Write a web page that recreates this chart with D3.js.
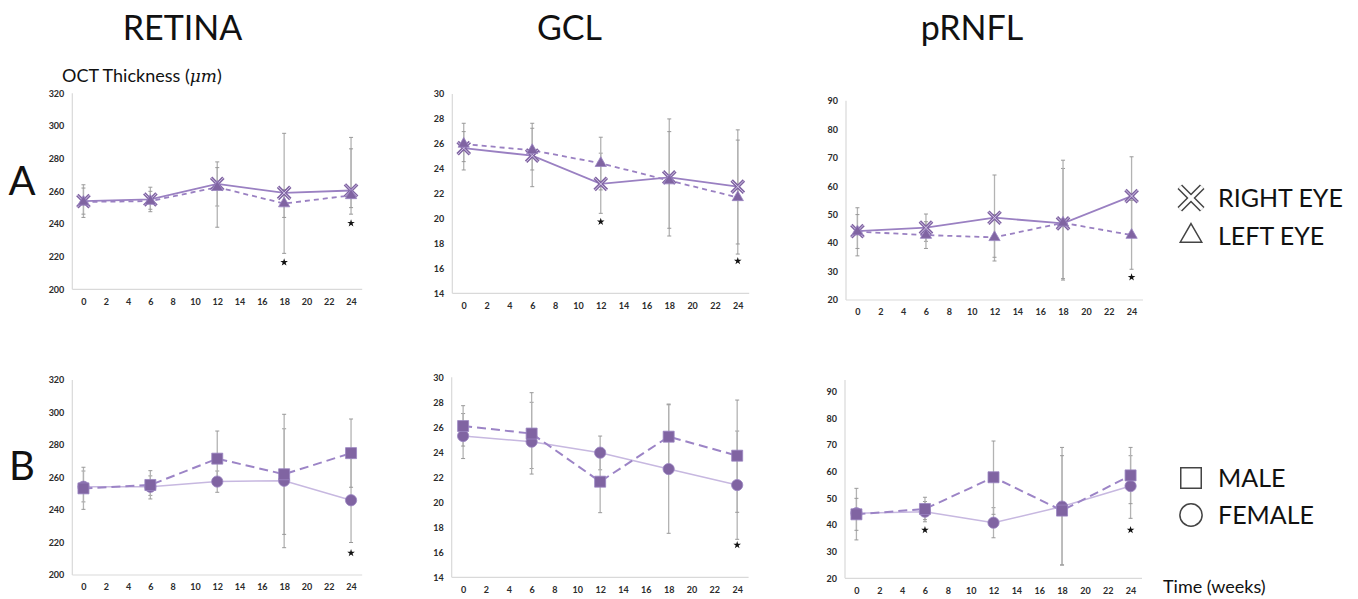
<!DOCTYPE html>
<html>
<head>
<meta charset="utf-8">
<script src="https://cdn.jsdelivr.net/npm/d3@7"></script>
<style>
  body { margin: 0; background: #fff; }
  svg { display: block; font-family: Lato, "Open Sans", sans-serif; }
</style>
</head>
<body>
<svg width="1358" height="599"></svg>
<script>
// Time points (weeks)
const weeks = [0, 6, 12, 18, 24];
const xTicks = [0, 2, 4, 6, 8, 10, 12, 14, 16, 18, 20, 22, 24];

// Row A: right eye vs left eye
const retinaRight = [254, 255, 264.5, 259, 260.5];
const retinaRightErr = [[244, 264], [247.5, 262.5], [251, 278], [222, 295.5], [246, 293]];
const retinaLeft = [253.5, 254, 262.5, 252.5, 257.5];
const retinaLeftErr = [[246, 262], [249, 260], [238, 274.5], [244, 261], [250, 286]];
const retinaAStars = [[18, 216.5], [24, 240.5]];

const gclRight = [25.65, 25.05, 22.78, 23.3, 22.56];
const gclRightErr = [[23.9, 27.65], [22.56, 27.65], [20.42, 25.25], [18.6, 28.0], [17.15, 27.12]];
const gclLeft = [25.99, 25.48, 24.44, 23.05, 21.7];
const gclLeftErr = [[24.57, 26.98], [23.9, 27.25], [22.3, 26.53], [19.22, 26.98], [17.96, 26.3]];
const gclAStars = [[12, 19.75], [24, 16.6]];

const rnflRight = [44.2, 45.4, 48.9, 46.9, 56.5];
const rnflRightErr = [[35.5, 52.4], [40.6, 50.2], [33.7, 63.9], [27.0, 66.2], [42, 70.3]];
const rnflLeft = [44, 42.8, 42.0, 47.1, 42.8];
const rnflLeftErr = [[38.1, 50], [38.1, 47.5], [35, 50], [27.5, 69.1], [30.8, 55]];
const rnflAStars = [[24, 28]];

// Row B: male vs female
const retinaMale = [253.3, 255.4, 271.6, 262, 275];
const retinaMaleErr = [[240.4, 266.3], [246.8, 264.2], [255, 288.6], [225, 298.9], [254, 296]];
const retinaFemale = [254.3, 254.3, 257.5, 258, 246];
const retinaFemaleErr = [[245, 264], [249, 261], [250.9, 264], [216.8, 290], [220, 272]];
const retinaBStars = [[24, 213.5]];

const gclMale = [26.1, 25.5, 21.65, 25.25, 23.73];
const gclMaleErr = [[24.5, 27.73], [22.26, 28.77], [19.17, 24.1], [22.6, 27.86], [19.2, 28.18]];
const gclFemale = [25.3, 24.85, 23.97, 22.66, 21.38];
const gclFemaleErr = [[23.5, 27.1], [22.7, 28.0], [22.6, 25.3], [17.52, 27.8], [17.04, 25.7]];
const gclBStars = [[24, 16.58]];

const rnflMale = [44, 46, 57.9, 45.4, 58.6];
const rnflMaleErr = [[38, 50], [42, 50.4], [44, 71.5], [25, 66], [48, 69.1]];
const rnflFemale = [44.4, 45, 40.85, 46.9, 54.6];
const rnflFemaleErr = [[34.4, 53.75], [41.2, 48.8], [35.2, 46.5], [25, 69.1], [42.5, 66]];
const rnflBStars = [[6, 38.1], [24, 38.1]];

const svg = d3.select("svg");
const purple = "#8064a2";

// series styles
const rightStyle = { line: "#9a80c2", width: 1.8, dash: null, marker: "x" };
const leftStyle = { line: "#9a80c2", width: 1.8, dash: "5,4", marker: "triangle" };
const maleStyle = { line: "#9c84c6", width: 2, dash: "9,5", marker: "square" };
const femaleStyle = { line: "#c7b8e0", width: 1.5, dash: null, marker: "circle" };

function markerPath(kind) {
  if (kind === "x") return d3.symbol().type(d3.symbolTimes).size(100)();
  if (kind === "triangle") return d3.symbol().type(d3.symbolTriangle).size(55)();
  if (kind === "square") return d3.symbol().type(d3.symbolSquare).size(121)();
  return d3.symbol().type(d3.symbolCircle).size(100)();
}

function drawPanel(p) {
  const x = d3.scaleLinear().domain([-1, 25]).range([p.left, p.right]);
  const y = d3.scaleLinear().domain(p.yDomain).range([p.bottom, p.top]);
  const g = svg.append("g");

  // axis lines
  g.append("line")
    .attr("x1", p.left).attr("x2", p.left)
    .attr("y1", p.lineTop || p.top).attr("y2", p.bottom)
    .attr("stroke", "#d9d9d9").attr("stroke-width", 1.2);
  g.append("line")
    .attr("x1", p.left).attr("x2", p.right)
    .attr("y1", p.bottom).attr("y2", p.bottom)
    .attr("stroke", "#d9d9d9").attr("stroke-width", 1.2);

  // tick labels
  const yAxis = d3.axisLeft(y)
    .tickValues(d3.range(p.yDomain[0], p.yDomain[1] + 0.001, p.step))
    .tickSize(0).tickPadding(8);
  const ya = g.append("g").attr("transform", `translate(${p.left},0)`).call(yAxis);
  const xAxis = d3.axisBottom(x).tickValues(xTicks).tickSize(0).tickPadding(9);
  const xa = g.append("g").attr("transform", `translate(0,${p.bottom})`).call(xAxis);
  [ya, xa].forEach(a => {
    a.select(".domain").remove();
    a.selectAll("text")
      .attr("font-family", "Lato, sans-serif")
      .attr("font-size", 9)
      .attr("font-weight", "bold")
      .attr("fill", "#2b2b2b");
  });

  // error bars
  p.series.forEach(s => {
    const eg = g.append("g").selectAll("g")
      .data(s.err.map((e, i) => ({ w: weeks[i], lo: e[0], hi: e[1] })))
      .enter().append("g");
    eg.append("line")
      .attr("x1", d => x(d.w)).attr("x2", d => x(d.w))
      .attr("y1", d => y(d.lo)).attr("y2", d => y(d.hi))
      .attr("stroke", "#b3b3b3").attr("stroke-width", 1.3);
    eg.selectAll(".cap")
      .data(d => [{ w: d.w, v: d.lo }, { w: d.w, v: d.hi }])
      .enter().append("line")
      .attr("class", "cap")
      .attr("x1", d => x(d.w) - 2).attr("x2", d => x(d.w) + 2)
      .attr("y1", d => y(d.v)).attr("y2", d => y(d.v))
      .attr("stroke", "#999").attr("stroke-width", 1);
  });

  // lines
  const line = d3.line().x((d, i) => x(weeks[i])).y(d => y(d));
  p.series.forEach(s => {
    g.append("path")
      .datum(s.values)
      .attr("d", line)
      .attr("fill", "none")
      .attr("stroke", s.style.line)
      .attr("stroke-width", s.style.width)
      .attr("stroke-dasharray", s.style.dash);
  });

  // markers
  p.series.forEach(s => {
    const pos = (d, i) => `translate(${x(weeks[i])},${y(d)})`;
    if (s.style.marker === "x") {
      // outlined X: dark stroke with lighter core
      const mg = g.append("g");
      mg.selectAll(".xo").data(s.values).enter().append("path")
        .attr("d", markerPath("x")).attr("transform", pos)
        .attr("fill", "none").attr("stroke", purple).attr("stroke-width", 3.4);
      mg.selectAll(".xi").data(s.values).enter().append("path")
        .attr("d", markerPath("x")).attr("transform", pos)
        .attr("fill", "none").attr("stroke", "#d4c8e8").attr("stroke-width", 1);
    } else {
      g.append("g").selectAll("path")
        .data(s.values)
        .enter().append("path")
        .attr("d", markerPath(s.style.marker))
        .attr("transform", pos)
        .attr("fill", purple).attr("stroke", "#9b85c2").attr("stroke-width", 0.8);
    }
  });

  // significance stars
  g.append("g").selectAll("path")
    .data(p.stars)
    .enter().append("path")
    .attr("d", d3.symbol().type(d3.symbolStar).size(18)())
    .attr("transform", d => `translate(${x(d[0])},${y(d[1])})`)
    .attr("fill", "#111");
}

const panels = [
  { left: 72.3, right: 362.2, top: 93.3, bottom: 289.3, yDomain: [200, 320], step: 20,
    series: [{ values: retinaRight, err: retinaRightErr, style: rightStyle },
             { values: retinaLeft, err: retinaLeftErr, style: leftStyle }], stars: retinaAStars },
  { left: 452.3, right: 749.2, top: 94, bottom: 293.3, yDomain: [14, 30], step: 2,
    series: [{ values: gclRight, err: gclRightErr, style: rightStyle },
             { values: gclLeft, err: gclLeftErr, style: leftStyle }], stars: gclAStars },
  { left: 846, right: 1143, top: 100.7, bottom: 300, yDomain: [20, 90], step: 10,
    series: [{ values: rnflRight, err: rnflRightErr, style: rightStyle },
             { values: rnflLeft, err: rnflLeftErr, style: leftStyle }], stars: rnflAStars },
  { left: 72.3, right: 362.2, top: 380, bottom: 575, yDomain: [200, 320], step: 20,
    series: [{ values: retinaFemale, err: retinaFemaleErr, style: femaleStyle },
             { values: retinaMale, err: retinaMaleErr, style: maleStyle }], stars: retinaBStars },
  { left: 451.7, right: 748.6, top: 377.3, bottom: 577.3, yDomain: [14, 30], step: 2,
    series: [{ values: gclFemale, err: gclFemaleErr, style: femaleStyle },
             { values: gclMale, err: gclMaleErr, style: maleStyle }], stars: gclBStars },
  { left: 845, right: 1142, top: 391.7, bottom: 578.3, lineTop: 380, yDomain: [20, 90], step: 10,
    series: [{ values: rnflFemale, err: rnflFemaleErr, style: femaleStyle },
             { values: rnflMale, err: rnflMaleErr, style: maleStyle }], stars: rnflBStars }
];
panels.forEach(drawPanel);

// column titles
const titles = [["RETINA", 182.5], ["GCL", 569.5], ["pRNFL", 972]];
svg.selectAll(".title")
  .data(titles)
  .enter().append("text")
  .attr("x", d => d[1]).attr("y", 40)
  .attr("text-anchor", "middle")
  .attr("font-size", 34)
  .attr("fill", "#111")
  .text(d => d[0]);

// row labels
svg.append("text").attr("x", 22).attr("y", 195).attr("text-anchor", "middle")
  .attr("font-size", 40).attr("fill", "#111").text("A");
svg.append("text").attr("x", 22).attr("y", 480).attr("text-anchor", "middle")
  .attr("font-size", 40).attr("fill", "#111").text("B");

// y axis title
const yt = svg.append("text").attr("x", 62).attr("y", 82)
  .attr("font-size", 18).attr("fill", "#111");
yt.append("tspan").text("OCT Thickness (");
yt.append("tspan").attr("font-family", "DejaVu Serif, serif").attr("font-style", "italic")
  .attr("font-size", 17).text("μm");
yt.append("tspan").text(")");

// x axis title
svg.append("text").attr("x", 1163).attr("y", 593).attr("font-size", 18)
  .attr("fill", "#111").text("Time (weeks)");

// legends
const legendItems = [
  { label: "RIGHT EYE", y: 198, type: d3.symbolTimes, size: 330 },
  { label: "LEFT EYE", y: 236, type: d3.symbolTriangle, size: 200 },
  { label: "MALE", y: 478, type: d3.symbolSquare, size: 420 },
  { label: "FEMALE", y: 515, type: d3.symbolCircle, size: 390 }
];
const lg = svg.append("g").selectAll("g")
  .data(legendItems)
  .enter().append("g");
lg.append("path")
  .attr("d", d => d3.symbol().type(d.type).size(d.size)())
  .attr("transform", d => `translate(1191,${d.y})`)
  .attr("fill", "#fff").attr("stroke", "#444")
  .attr("stroke-width", d => d.type === d3.symbolTimes ? 6.5 : 1.5);
lg.filter(d => d.type === d3.symbolTimes).append("path")
  .attr("d", d => d3.symbol().type(d.type).size(d.size)())
  .attr("transform", d => `translate(1191,${d.y})`)
  .attr("fill", "none").attr("stroke", "#fff").attr("stroke-width", 3.5);
lg.append("text")
  .attr("x", 1218).attr("y", d => d.y + 9)
  .attr("font-size", 25).attr("fill", "#111")
  .text(d => d.label);
</script>
</body>
</html>
